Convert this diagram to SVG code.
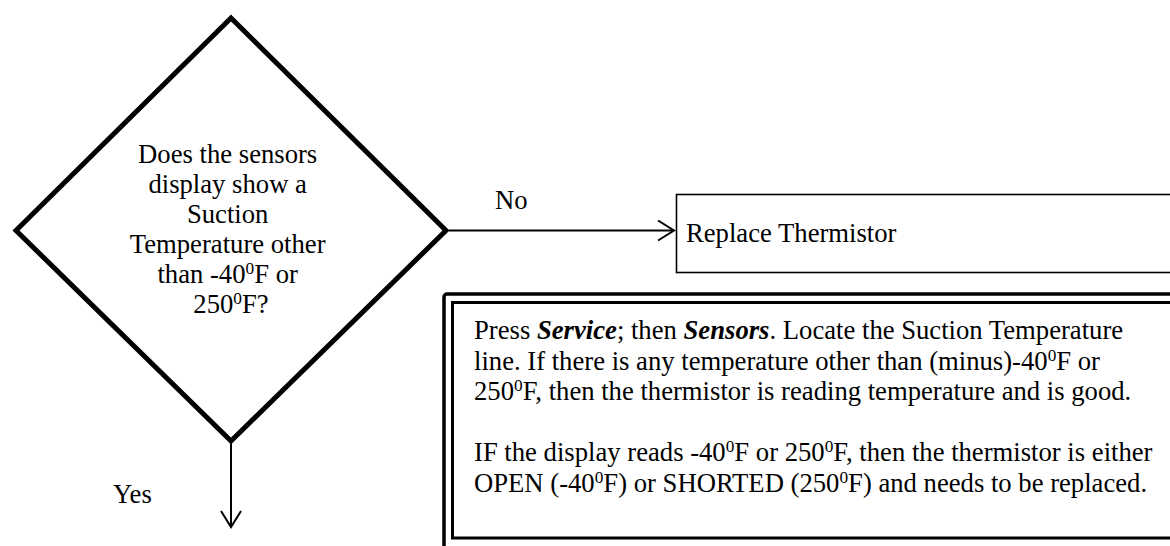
<svg xmlns="http://www.w3.org/2000/svg" width="1170" height="546" viewBox="0 0 1170 546">
  <style>
    text { font-family: "Liberation Serif", "Times New Roman", serif; font-size: 26.67px; fill: #000; }
    .sup { font-size: 17.3px; }
    .bi { font-weight: bold; font-style: italic; }
    .conn { stroke: #000; stroke-width: 2; fill: none; }
  </style>
  <defs>
    <marker id="open-arrow" markerUnits="userSpaceOnUse" markerWidth="22" markerHeight="24" refX="17" refY="11" orient="auto">
      <path d="M1,1 L17,11 L1,21" fill="none" stroke="#000" stroke-width="2"/>
    </marker>
  </defs>

  <!-- decision diamond -->
  <g id="decision">
    <polygon points="231,18 446,230.5 231,441 16,230.5" fill="#fff" stroke="#000" stroke-width="5"/>
    <text text-anchor="middle">
      <tspan x="231" y="163">Does the sensors</tspan>
      <tspan x="231" y="193">display show a</tspan>
      <tspan x="231" y="223">Suction</tspan>
      <tspan x="231" y="253">Temperature other</tspan>
      <tspan x="231" y="283">than -40<tspan class="sup" dy="-9">0</tspan><tspan dy="9">F or</tspan></tspan>
      <tspan x="231" y="313">250<tspan class="sup" dy="-9">0</tspan><tspan dy="9">F?</tspan></tspan>
    </text>
  </g>

  <!-- action box -->
  <g id="replace">
    <rect x="676.5" y="194.5" width="520" height="78" fill="#fff" stroke="#000" stroke-width="1.6"/>
    <text x="686" y="242">Replace Thermistor</text>
  </g>

  <!-- note box with double frame -->
  <g id="note">
    <rect x="444" y="294" width="760" height="280" rx="3" fill="#fff" stroke="#000" stroke-width="3.5"/>
    <rect x="452.5" y="302.5" width="750" height="235.5" fill="#fff" stroke="#000" stroke-width="3"/>
    <text>
      <tspan x="474" y="339">Press <tspan class="bi">Service</tspan>; then <tspan class="bi">Sensors</tspan>. Locate the Suction Temperature</tspan>
      <tspan x="474" y="369.5">line. If there is any temperature other than (minus)-40<tspan class="sup" dy="-9">0</tspan><tspan dy="9">F or</tspan></tspan>
      <tspan x="474" y="400">250<tspan class="sup" dy="-9">0</tspan><tspan dy="9">F, then the thermistor is reading temperature and is good.</tspan></tspan>
      <tspan x="474" y="461">IF the display reads -40<tspan class="sup" dy="-9">0</tspan><tspan dy="9">F or 250</tspan><tspan class="sup" dy="-9">0</tspan><tspan dy="9">F, then the thermistor is either</tspan></tspan>
      <tspan x="474" y="491.5">OPEN (-40<tspan class="sup" dy="-9">0</tspan><tspan dy="9">F) or SHORTED (250</tspan><tspan class="sup" dy="-9">0</tspan><tspan dy="9">F) and needs to be replaced.</tspan></tspan>
    </text>
  </g>

  <!-- connectors -->
  <g id="connectors">
    <line class="conn" x1="449" y1="230.5" x2="674" y2="230.5" marker-end="url(#open-arrow)"/>
    <text x="495" y="209">No</text>
    <line class="conn" x1="231" y1="443" x2="231" y2="527" marker-end="url(#open-arrow)"/>
    <text x="113" y="503">Yes</text>
  </g>
</svg>
